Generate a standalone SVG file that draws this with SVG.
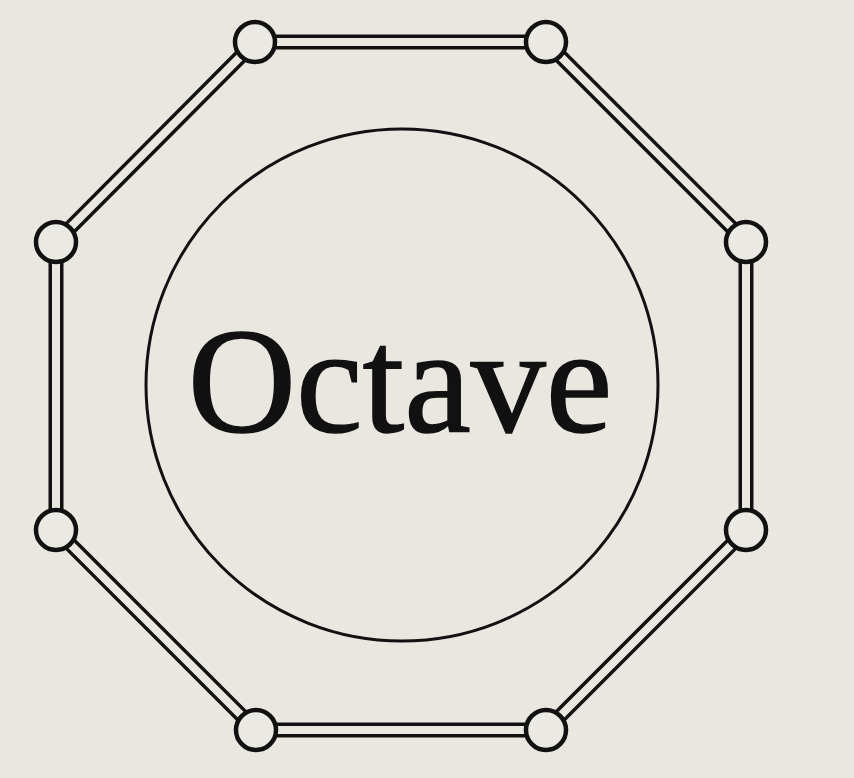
<svg xmlns="http://www.w3.org/2000/svg" width="854" height="778" viewBox="0 0 854 778">
<style>
.outer{stroke:#111;stroke-width:15;fill:none}
.inner{stroke:#e9e7e0;stroke-width:8;fill:none}
.node{fill:#ebe9e3;stroke:#111;stroke-width:4.5}
.label{font-family:"Liberation Serif","Times New Roman",serif;font-size:150px;fill:#111;stroke:#111;stroke-width:1.5}
</style>
<rect width="854" height="778" fill="#e9e7e0"/>
<g id="connectors">
<polygon class="outer" points="255,42 546,42 746,242 746,530 546,730 256,730 56,530 56,242"/>
<polygon class="inner" points="255,42 546,42 746,242 746,530 546,730 256,730 56,530 56,242"/>
</g>
<g id="center">
<circle cx="402" cy="385" r="256" fill="none" stroke="#111" stroke-width="3"/>
<text class="label" x="400" y="432" text-anchor="middle">Octave</text>
</g>
<g id="n1"><circle class="node" cx="255" cy="42" r="20"/></g>
<g id="n2"><circle class="node" cx="546" cy="42" r="20"/></g>
<g id="n3"><circle class="node" cx="746" cy="242" r="20"/></g>
<g id="n4"><circle class="node" cx="746" cy="530" r="20"/></g>
<g id="n5"><circle class="node" cx="546" cy="730" r="20"/></g>
<g id="n6"><circle class="node" cx="256" cy="730" r="20"/></g>
<g id="n7"><circle class="node" cx="56" cy="530" r="20"/></g>
<g id="n8"><circle class="node" cx="56" cy="242" r="20"/></g>
</svg>
